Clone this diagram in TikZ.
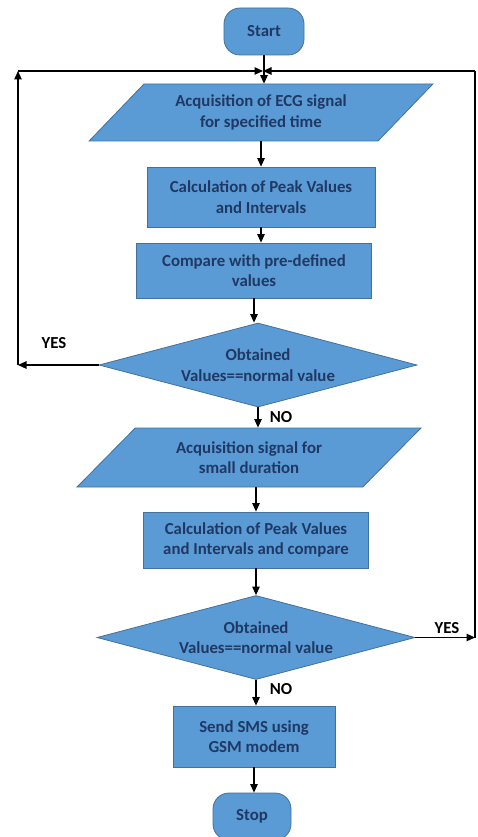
\documentclass[tikz,border=0pt]{standalone}
\usepackage{fontspec}
\setmainfont{Carlito}
\usetikzlibrary{shapes.geometric,arrows.meta,calc}
\definecolor{boxfill}{HTML}{5B9BD5}
\definecolor{boxline}{HTML}{41719C}
\definecolor{boxtext}{HTML}{1F3864}
\begin{document}
\begin{tikzpicture}[x=1pt,y=-1pt,
  base/.style={draw=boxline,fill=boxfill,line width=0.8pt,text=boxtext,
    font=\fontsize{16.8}{20.5}\selectfont\bfseries,align=center,inner sep=0pt},
  procbox/.style={base,rectangle,minimum width=#1},
  termbox/.style={base,rectangle,rounded corners=16pt,minimum width=80pt,minimum height=47pt},
  iobox/.style={base,trapezium,trapezium stretches=true,trapezium left angle=41,
    trapezium right angle=139,minimum width=344pt},
  decbox/.style={base,diamond,minimum width=318pt,minimum height=84pt,shape aspect=3.8},
  arr/.style={draw=black,line width=1.1pt,-{Triangle[length=8.5pt,width=7.5pt]}},
  lin/.style={draw=black,line width=1.1pt},
  lbl/.style={font=\fontsize{16.8}{20}\selectfont\bfseries,text=black,inner sep=0pt}
]
\useasboundingbox (0,0) rectangle (477,837);
\fill[white] (0,0) rectangle (477,837);

\node[termbox] (start) at (264,31.5) {Start};
\node[iobox,minimum height=57pt] (p1) at (261,112.5) {Acquisition of ECG signal\\for specified time};
\node[procbox=228pt,minimum height=60pt] (b2) at (261,197) {Calculation of Peak Values\\and Intervals};
\node[procbox=235pt,minimum height=55pt] (b3) at (254,270.5) {Compare with pre-defined\\values};
\node[decbox] (d1) at (258,365) {Obtained\\Values==normal value};
\node[iobox,minimum height=59pt] (p2) at (249,457.5) {Acquisition signal for\\small duration};
\node[procbox=225pt,minimum height=56pt] (b5) at (256,540) {Calculation of Peak Values\\and Intervals and compare};
\node[decbox] (d2) at (256,637.5) {Obtained\\Values==normal value};
\node[procbox=162pt,minimum height=61pt] (b6) at (254,736.5) {Send SMS using\\GSM modem};
\node[termbox,minimum width=78pt] (stop) at (252,816.5) {Stop};

\coordinate (j) at (263,71);
\coordinate (L) at (18,365);
\coordinate (LT) at (18,71);
\coordinate (R) at (475,637.5);
\coordinate (RT) at (475,71);

\draw[arr] (start.south) -- (start.south |- p1.north);
\draw[arr] (p1.south) -- (p1.south |- b2.north);
\draw[arr] (b2.south) -- (b2.south |- b3.north);
\draw[arr] (b3.south) -- (b3.south |- d1.north);
\draw[arr] (d1.south) -- (d1.south |- p2.north);
\draw[arr] (b5.north |- p2.south) -- (b5.north);
\draw[arr] (b5.south) -- (b5.south |- d2.north);
\draw[arr] (d2.south) -- (d2.south |- b6.north);
\draw[arr] (b6.south) -- (b6.south |- stop.north);

\draw[arr] (d1.west) -- (L);
\draw[arr] (L) -- (LT);
\draw[arr] (LT) -- (j);
\draw[arr] (d2.east) -- (R);
\draw[lin] (R) -- (RT);
\draw[arr] (RT) -- (j);

\node[lbl] (yes1) at (54,343) {YES};
\node[lbl] (no1) at (281,417) {NO};
\node[lbl] (yes2) at (447,628) {YES};
\node[lbl] (no2) at (281,689) {NO};
\end{tikzpicture}
\end{document}
